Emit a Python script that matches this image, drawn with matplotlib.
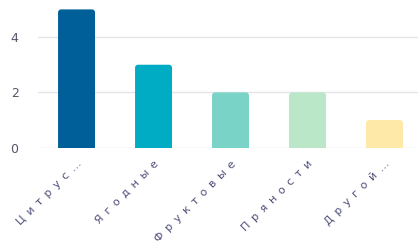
import matplotlib
matplotlib.use("Agg")
import matplotlib.pyplot as plt
from matplotlib.patches import FancyBboxPatch

categories = ["Цитрус…", "Ягодные", "Фруктовые", "Пряности", "Другой…"]
values = [5, 3, 2, 2, 1]
colors = ["#005f99", "#00abc4", "#79d3c6", "#b9e7c7", "#fee9a8"]
yticks = [0, 2, 4]

plt.rcParams['font.family'] = ['DejaVu Sans']

fig = plt.figure(figsize=(4.18, 2.48), dpi=100)
ax = fig.add_axes([0.091, 0.4044, 0.921, 0.58])

bars = ax.bar(range(len(categories)), values, width=0.48, color=colors, zorder=3)
# replace with rounded-top bars
for b, c in zip(bars, colors):
    x, y = b.get_x(), b.get_y()
    w, h = b.get_width(), b.get_height()
    b.set_visible(False)
    p = FancyBboxPatch((x, y - 0.2), w, h + 0.2,
                       boxstyle="round,pad=0,rounding_size=0.04",
                       mutation_aspect=2.7, facecolor=c, edgecolor='none',
                       zorder=3, clip_on=True)
    ax.add_patch(p)

ax.set_xlim(-0.5, len(categories) - 0.5)
ax.set_ylim(0, 5.2)
ax.set_yticks(yticks)
ax.set_yticklabels([str(t) for t in yticks], fontsize=9, color="#55556a")
ax.yaxis.grid(True, color="#e4e4ea", linewidth=1, zorder=0)
ax.set_axisbelow(True)
for s in ax.spines.values():
    s.set_visible(False)
ax.tick_params(axis='both', length=0)
ax.tick_params(axis='y', pad=14)

ax.set_xticks(range(len(categories)))
spaced = ["\u2002".join(list(c)) for c in categories]
ax.set_xticklabels(spaced, rotation=45, ha='right', rotation_mode='anchor',
                   fontsize=8, color="#50507a", fontweight='medium')
ax.tick_params(axis='x', pad=8)

fig.savefig("out.png", dpi=100)
